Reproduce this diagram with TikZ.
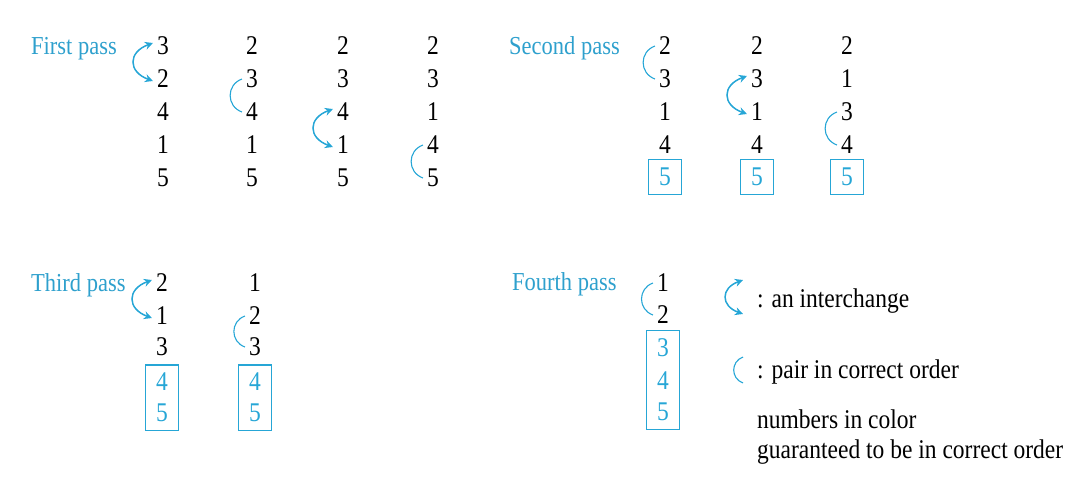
\documentclass[tikz,border=0pt]{standalone}
\usepackage{fontspec}
\setmainfont{Liberation Serif}
\usetikzlibrary{arrows.meta,fit,calc}
\definecolor{cy}{RGB}{38,166,214}
\definecolor{cylab}{RGB}{46,160,205}
\newcommand{\vs}[1]{\scalebox{1}[1.15]{#1}}
\begin{document}
\begin{tikzpicture}[x=1pt,y=1pt,
  dig/.style={inner sep=0pt,font=\fontsize{23.5}{23.5}\selectfont},
  cdig/.style={dig,text=cy},
  lab/.style={inner sep=0pt,anchor=base west,text=cylab,font=\fontsize{22.5}{22.5}\selectfont},
  txt/.style={inner sep=0pt,anchor=base west,font=\fontsize{23.5}{23.5}\selectfont},
  swaparc/.style={draw=cy,line width=1.5pt,{Stealth[length=8pt,width=8pt]}-{Stealth[length=8pt,width=8pt]},out=200,in=160,looseness=1.8},
  okarc/.style={draw=cy,line width=1.1pt,out=200,in=160,looseness=1.3},
  sbox/.style={draw=cy,line width=1.2pt,inner xsep=10.5pt,inner ysep=8pt}]
\useasboundingbox (0,0) rectangle (1091,-488);

% ---------- First pass ----------
\node[lab] (l1) at (31,-54) {\vs{First pass}};
\node[dig] (a11) at (163,-46) {\vs{3}};
\node[dig] (a12) at (163,-79) {\vs{2}};
\node[dig] (a13) at (163,-112) {\vs{4}};
\node[dig] (a14) at (163,-145) {\vs{1}};
\node[dig] (a15) at (163,-178) {\vs{5}};
\node[dig] (a21) at (252,-46) {\vs{2}};
\node[dig] (a22) at (252,-79) {\vs{3}};
\node[dig] (a23) at (252,-112) {\vs{4}};
\node[dig] (a24) at (252,-145) {\vs{1}};
\node[dig] (a25) at (252,-178) {\vs{5}};
\node[dig] (a31) at (343,-46) {\vs{2}};
\node[dig] (a32) at (343,-79) {\vs{3}};
\node[dig] (a33) at (343,-112) {\vs{4}};
\node[dig] (a34) at (343,-145) {\vs{1}};
\node[dig] (a35) at (343,-178) {\vs{5}};
\node[dig] (a41) at (433,-46) {\vs{2}};
\node[dig] (a42) at (433,-79) {\vs{3}};
\node[dig] (a43) at (433,-112) {\vs{1}};
\node[dig] (a44) at (433,-145) {\vs{4}};
\node[dig] (a45) at (433,-178) {\vs{5}};
\draw[swaparc] ($(a11.west)+(-4,3)$) to ($(a12.west)+(-4,-2)$);
\draw[okarc] ($(a22.west)+(-4,0)$) to ($(a23.west)+(-4,0)$);
\draw[swaparc] ($(a33.west)+(-4,3)$) to ($(a34.west)+(-4,-2)$);
\draw[okarc] ($(a44.west)+(-4,0)$) to ($(a45.west)+(-4,0)$);

% ---------- Second pass ----------
\node[lab] (l2) at (509,-54) {\vs{Second pass}};
\node[dig] (b11) at (665,-46) {\vs{2}};
\node[dig] (b12) at (665,-79) {\vs{3}};
\node[dig] (b13) at (665,-112) {\vs{1}};
\node[dig] (b14) at (665,-145) {\vs{4}};
\node[cdig] (b15) at (665,-177) {\vs{5}};
\node[dig] (b21) at (757,-46) {\vs{2}};
\node[dig] (b22) at (757,-79) {\vs{3}};
\node[dig] (b23) at (757,-112) {\vs{1}};
\node[dig] (b24) at (757,-145) {\vs{4}};
\node[cdig] (b25) at (757,-177) {\vs{5}};
\node[dig] (b31) at (847,-46) {\vs{2}};
\node[dig] (b32) at (847,-79) {\vs{1}};
\node[dig] (b33) at (847,-112) {\vs{3}};
\node[dig] (b34) at (847,-145) {\vs{4}};
\node[cdig] (b35) at (847,-177) {\vs{5}};
\node[sbox,fit=(b15)] (bx1) {};
\node[sbox,fit=(b25)] (bx2) {};
\node[sbox,fit=(b35)] (bx3) {};
\draw[okarc] ($(b11.west)+(-4,0)$) to ($(b12.west)+(-4,0)$);
\draw[swaparc] ($(b22.west)+(-4,3)$) to ($(b23.west)+(-4,-2)$);
\draw[okarc] ($(b33.west)+(-4,0)$) to ($(b34.west)+(-4,0)$);

% ---------- Third pass ----------
\node[lab] (l3) at (31,-291) {\vs{Third pass}};
\node[dig] (c11) at (162,-283) {\vs{2}};
\node[dig] (c12) at (162,-316) {\vs{1}};
\node[dig] (c13) at (162,-347) {\vs{3}};
\node[cdig] (c14) at (162,-382) {\vs{4}};
\node[cdig] (c15) at (162,-413) {\vs{5}};
\node[dig] (c21) at (255,-283) {\vs{1}};
\node[dig] (c22) at (255,-316) {\vs{2}};
\node[dig] (c23) at (255,-347) {\vs{3}};
\node[cdig] (c24) at (255,-382) {\vs{4}};
\node[cdig] (c25) at (255,-413) {\vs{5}};
\node[sbox,fit=(c14)(c15)] (cx1) {};
\node[sbox,fit=(c24)(c25)] (cx2) {};
\draw[swaparc] ($(c11.west)+(-4,3)$) to ($(c12.west)+(-4,-2)$);
\draw[okarc] ($(c22.west)+(-4,0)$) to ($(c23.west)+(-4,0)$);

% ---------- Fourth pass ----------
\node[lab] (l4) at (512,-290) {\vs{Fourth pass}};
\node[dig] (d11) at (663,-283) {\vs{1}};
\node[dig] (d12) at (663,-315) {\vs{2}};
\node[cdig] (d13) at (663,-348) {\vs{3}};
\node[cdig] (d14) at (663,-381) {\vs{4}};
\node[cdig] (d15) at (663,-412) {\vs{5}};
\node[sbox,fit=(d13)(d15)] (dx1) {};
\draw[okarc] ($(d11.west)+(-4,0)$) to ($(d12.west)+(-4,0)$);

% ---------- Legend ----------
\coordinate (s1) at (743,-280);
\coordinate (s2) at (743,-314);
\draw[swaparc] (s1) to (s2);
\node[txt] (t1) at (757,-307) {\vs{: an interchange}};
\coordinate (o1) at (743,-357);
\coordinate (o2) at (743,-383);
\draw[okarc] (o1) to (o2);
\node[txt] (t2) at (757,-378) {\vs{: pair in correct order}};
\node[txt] (t3) at (757,-428) {\vs{numbers in color}};
\node[txt] (t4) at (757,-458) {\vs{guaranteed to be in correct order}};
\end{tikzpicture}
\end{document}
